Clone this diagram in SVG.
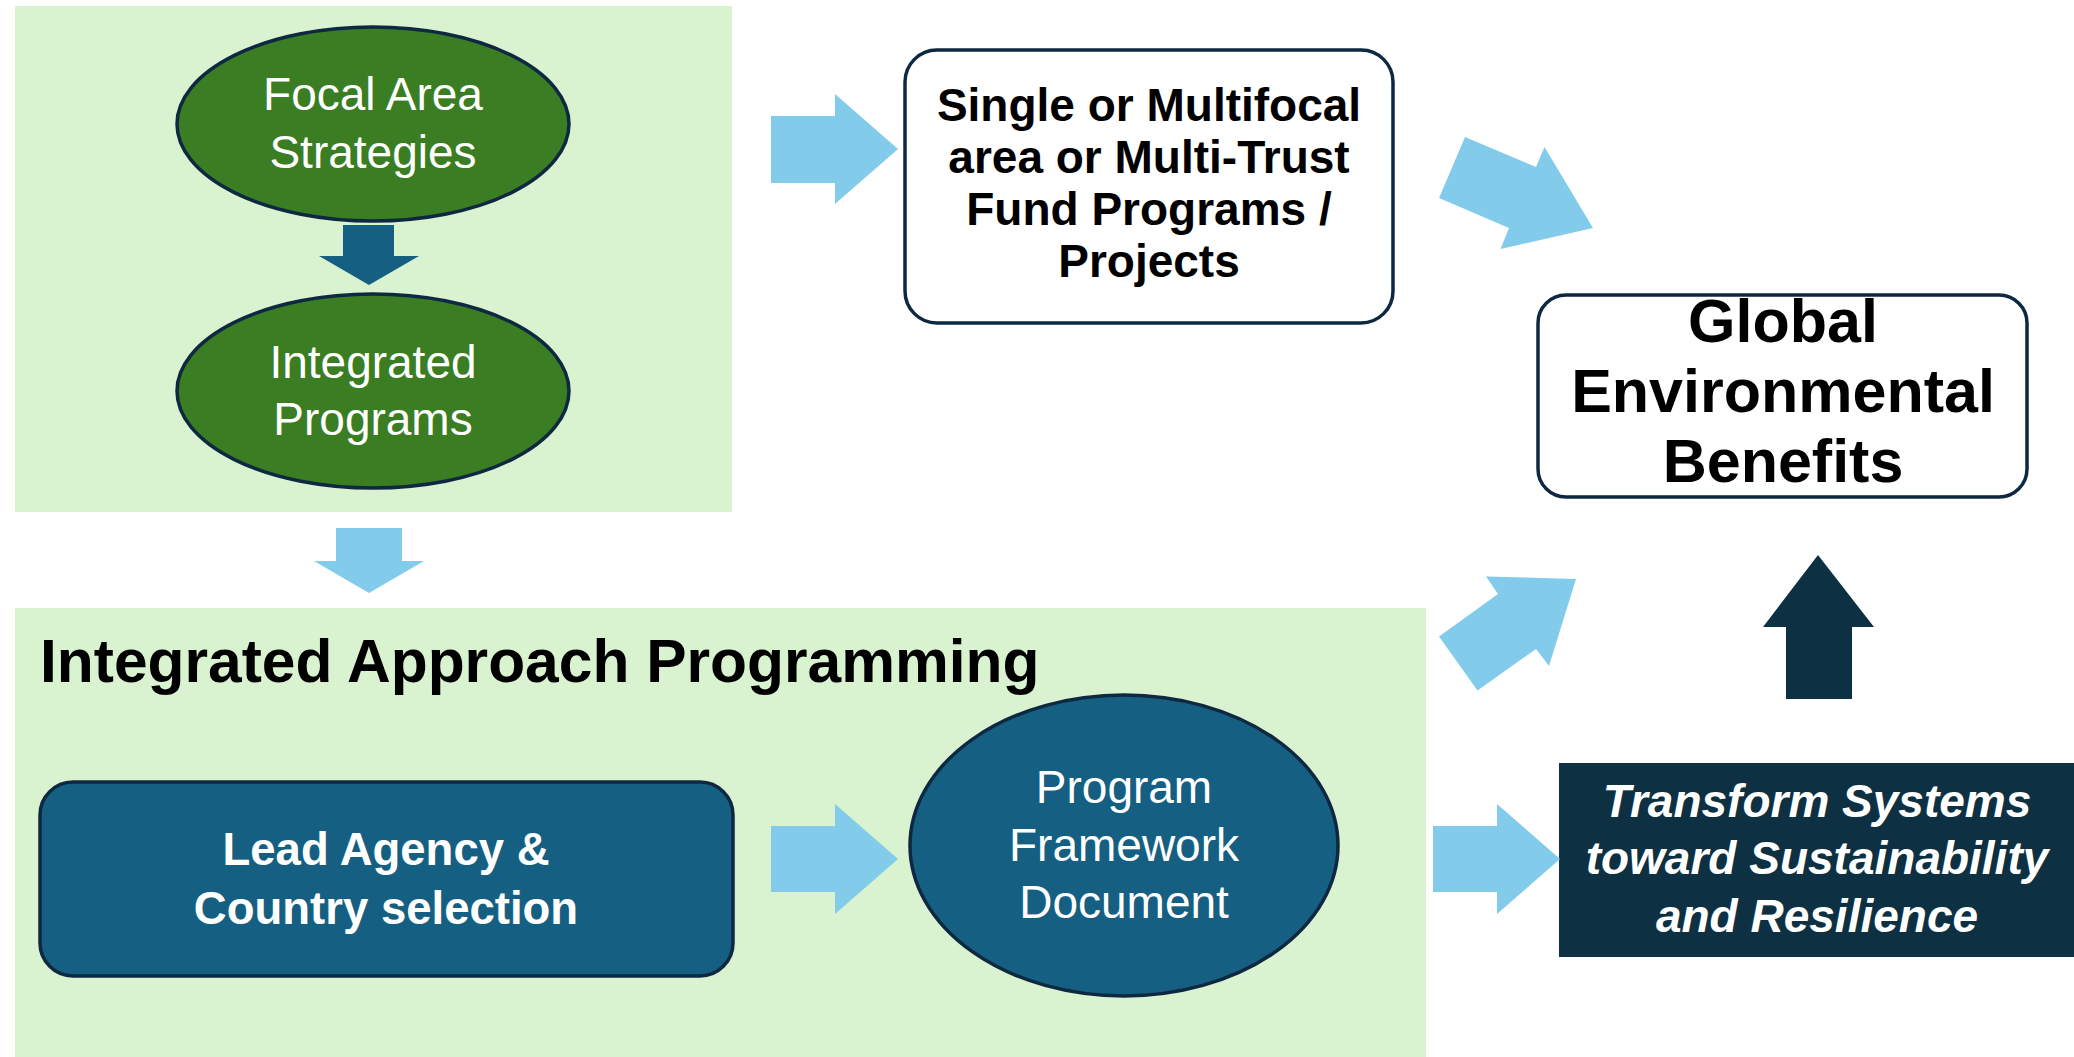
<svg xmlns="http://www.w3.org/2000/svg" width="2074" height="1057" viewBox="0 0 2074 1057">
<style>
.panel{fill:#d9f2d0}
.green{fill:#3a7d22;stroke:#0e2841;stroke-width:3.5}
.teal{fill:#156082;stroke:#0e2841;stroke-width:3.5}
.white{fill:#ffffff;stroke:#0e2841;stroke-width:3.5}
.navy{fill:#0d3043}
.lb{fill:#83cbeb}
.t{font-family:"Liberation Sans",Arial,sans-serif;text-anchor:middle}
.lt{fill:#ffffff;font-size:46px}
.bw{fill:#ffffff;font-weight:bold}
.bk{fill:#000000;font-weight:bold}
</style>
<rect width="2074" height="1057" fill="#ffffff"/>
<g id="panel-top"><rect class="panel" x="15" y="6" width="717" height="506"/></g>
<g id="panel-iap">
<rect class="panel" x="15" y="608" width="1411" height="449"/>
<text x="40" y="682" font-family="Liberation Sans, Arial, sans-serif" font-weight="bold" font-size="60.5" fill="#000000">Integrated Approach Programming</text>
</g>
<g id="focal">
<ellipse class="green" cx="373" cy="124" rx="196" ry="97"/>
<text class="t lt" x="373" y="110">Focal Area</text>
<text class="t lt" x="373" y="168">Strategies</text>
</g>
<g id="integrated">
<ellipse class="green" cx="373" cy="391" rx="196" ry="97"/>
<text class="t lt" x="373" y="378">Integrated</text>
<text class="t lt" x="373" y="435">Programs</text>
</g>
<g id="single">
<rect class="white" x="905" y="50" width="488" height="273" rx="32"/>
<text class="t bk" font-size="46" x="1149" y="121">Single or Multifocal</text>
<text class="t bk" font-size="46" x="1149" y="173">area or Multi-Trust</text>
<text class="t bk" font-size="46" x="1149" y="225">Fund Programs /</text>
<text class="t bk" font-size="46" x="1149" y="277">Projects</text>
</g>
<g id="geb">
<rect class="white" x="1538" y="295" width="489" height="202" rx="28"/>
<text class="t bk" font-size="61" x="1783" y="342">Global</text>
<text class="t bk" font-size="61" x="1783" y="412">Environmental</text>
<text class="t bk" font-size="61" x="1783" y="482">Benefits</text>
</g>
<g id="lead">
<rect class="teal" x="40" y="782" width="693" height="194" rx="33"/>
<text class="t bw" font-size="45.5" x="386" y="865">Lead Agency &amp;</text>
<text class="t bw" font-size="45.5" x="386" y="924">Country selection</text>
</g>
<g id="pfd">
<ellipse class="teal" cx="1124" cy="845.5" rx="214" ry="150.5"/>
<text class="t lt" font-size="47" x="1124" y="803">Program</text>
<text class="t lt" font-size="47" x="1124" y="861">Framework</text>
<text class="t lt" font-size="47" x="1124" y="918">Document</text>
</g>
<g id="transform">
<rect class="navy" x="1559" y="763" width="515" height="194"/>
<text class="t bw" font-style="italic" font-size="46" x="1817" y="817">Transform Systems</text>
<text class="t bw" font-style="italic" font-size="46" x="1817" y="874">toward Sustainability</text>
<text class="t bw" font-style="italic" font-size="46" x="1817" y="932">and Resilience</text>
</g>
<g id="connectors">
<polygon fill="#156082" points="343,225 394,225 394,256 419,256 369,285 319,256 343,256"/>
<polygon class="lb" points="336,528 402,528 402,561 424,561 369,593 314,561 336,561"/>
<polygon class="lb" points="771,116 835,116 835,94 898,149 835,204 835,183 771,183"/>
<polygon class="lb" points="771,826 835,826 835,804 898,859 835,914 835,892 771,892"/>
<polygon class="lb" points="1433,826 1497,826 1497,804 1560,859 1497,914 1497,892 1433,892"/>
<polygon class="lb" points="1465,137 1536,167 1544.5,147 1593,228 1500.5,249 1509,228 1439,198"/>
<polygon class="lb" points="1486,576.5 1576,579 1549,666 1536,649 1477.5,690.5 1439,636.5 1498,594"/>
<polygon class="navy" points="1818,555 1874,627 1852,627 1852,699 1786,699 1786,627 1763,627"/>
</g>
</svg>
